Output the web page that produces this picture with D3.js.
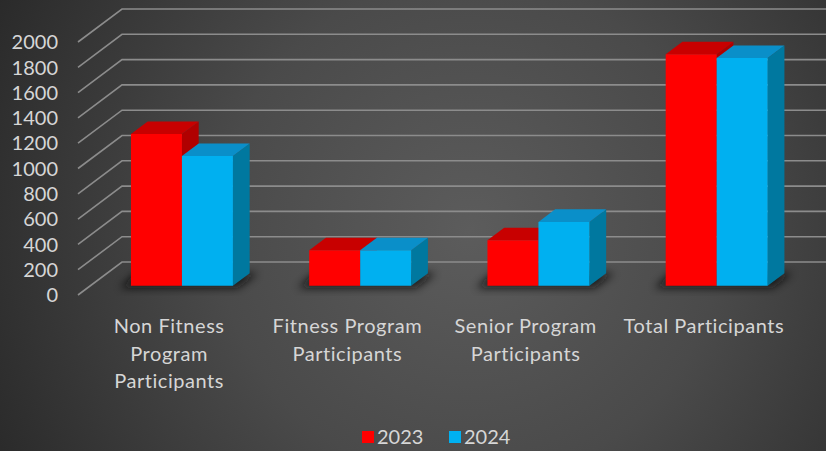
<!DOCTYPE html>
<html>
<head>
<meta charset="utf-8">
<script src="https://cdn.jsdelivr.net/npm/d3@7"></script>
<style>
  html, body { margin: 0; padding: 0; background: #333; }
  svg { display: block; }
  text { font-family: Lato, "Open Sans", sans-serif; fill: #d6d6d6; }
</style>
</head>
<body>
<svg id="chart" width="826" height="451"></svg>
<script>
// Participants per program, 2023 vs 2024
const categories = [
  "Non Fitness Program Participants",
  "Fitness Program Participants",
  "Senior Program Participants",
  "Total Participants"
];
const categoryLines = [
  ["Non Fitness", "Program", "Participants"],
  ["Fitness Program", "Participants"],
  ["Senior Program", "Participants"],
  ["Total Participants"]
];
const seriesNames = ["2023", "2024"];
const values2023 = [1200, 280, 360, 1830];
const values2024 = [1025, 280, 505, 1800];
const yTicks = [0, 200, 400, 600, 800, 1000, 1200, 1400, 1600, 1800, 2000];

const W = 826, H = 451;
const svg = d3.select("#chart");

// background: dark radial glow
const defs = svg.append("defs");
const bg = defs.append("radialGradient").attr("id", "bg")
  .attr("gradientUnits", "userSpaceOnUse")
  .attr("cx", 470).attr("cy", 230).attr("r", 560);
bg.append("stop").attr("offset", "0").attr("stop-color", "#5c5c5c");
bg.append("stop").attr("offset", "0.45").attr("stop-color", "#4a4a4a");
bg.append("stop").attr("offset", "1").attr("stop-color", "#262626");
svg.append("rect").attr("width", W).attr("height", H).attr("fill", "url(#bg)");

const blur = defs.append("filter").attr("id", "shadowBlur")
  .attr("x", "-50%").attr("y", "-50%").attr("width", "200%").attr("height", "200%");
blur.append("feGaussianBlur").attr("stdDeviation", 4);

// oblique 3D frame: front plane + depth vector
const frontLeft = 78, frontRight = 791;
const depthX = 44, depthY = -33;
const y = d3.scaleLinear().domain([0, 2000]).range([295, 42]);
const x = d3.scaleBand().domain(categories).range([frontLeft, frontRight]);
const clusterW = 102;
const xs = d3.scaleBand().domain(seriesNames).range([0, clusterW]);
const tFront = 0.28, tBack = 0.66;

const proj = (px, v, t) => [px + t * depthX, y(v) + t * depthY];

// gridlines: side diagonal + back wall
const grid = svg.append("g").attr("fill", "none")
  .attr("stroke", "#8c8c8c").attr("stroke-width", 1.6);
grid.selectAll("path").data(yTicks).join("path")
  .attr("d", v => d3.line()([
    proj(frontLeft, v, 0),
    proj(frontLeft, v, 1),
    proj(frontRight, v, 1)
  ]));

// tick labels
svg.append("g").selectAll("text").data(yTicks).join("text")
  .attr("x", 58).attr("y", v => y(v))
  .attr("dy", "0.36em").attr("text-anchor", "end")
  .style("font-size", "20px")
  .text(d => d);

const colors = {
  "2023": { front: "#ff0000", top: "#c80000", side: "#b00000" },
  "2024": { front: "#00b0f0", top: "#0a8fc9", side: "#00789f" }
};

const data = categories.map((c, i) => ({
  cat: c,
  bars: [
    { series: "2023", value: values2023[i] },
    { series: "2024", value: values2024[i] }
  ]
}));

const clusterLeft = c => x(c) + (x.bandwidth() - clusterW) / 2 + 2.5;

// soft floor shadows
svg.append("g").selectAll("path").data(data).join("path")
  .attr("filter", "url(#shadowBlur)")
  .attr("fill", "#0d0d0d").attr("opacity", 0.8)
  .attr("d", d => {
    const l = clusterLeft(d.cat) - 12, r = clusterLeft(d.cat) + clusterW + 4;
    const a = proj(l, 0, tFront + 0.02), b = proj(r, 0, tFront + 0.02);
    const c2 = proj(r + 4, 0, tBack), d2 = proj(l, 0, tBack);
    return d3.line()([[a[0], a[1] + 3], [b[0], b[1] + 3], c2, d2]) + "Z";
  });

// 3D bars
const bars = svg.append("g");
data.forEach(d => {
  d.bars.forEach(bd => {
    const l = clusterLeft(d.cat) + xs(bd.series);
    const r = l + xs.bandwidth();
    const col = colors[bd.series];
    const g = bars.append("g");
    const fbl = proj(l, 0, tFront), fbr = proj(r, 0, tFront);
    const ftl = proj(l, bd.value, tFront), ftr = proj(r, bd.value, tFront);
    const btl = proj(l, bd.value, tBack), btr = proj(r, bd.value, tBack);
    const bbr = proj(r, 0, tBack);
    g.append("path").attr("fill", col.side)
      .attr("d", d3.line()([ftr, btr, bbr, fbr]) + "Z");
    g.append("path").attr("fill", col.top)
      .attr("d", d3.line()([ftl, btl, btr, ftr]) + "Z");
    g.append("path").attr("fill", col.front)
      .attr("d", d3.line()([ftl, ftr, fbr, fbl]) + "Z");
  });
});

// category labels
const catG = svg.append("g").selectAll("text").data(categories).join("text")
  .attr("text-anchor", "middle")
  .style("font-size", "20px")
  .style("letter-spacing", "0.55px")
  .attr("transform", c => `translate(${x(c) + x.bandwidth() / 2 + 2},326)`);
catG.selectAll("tspan").data((c, i) => categoryLines[i]).join("tspan")
  .attr("x", 0).attr("y", (t, j) => j * 27.5).attr("dy", "0.36em")
  .text(t => t);

// legend
const legend = svg.append("g").attr("transform", "translate(362,437)");
const legendX = [0, 87];
seriesNames.forEach((s, i) => {
  const lg = legend.append("g").attr("transform", `translate(${legendX[i]},0)`);
  lg.append("rect").attr("x", 0).attr("y", -6).attr("width", 12).attr("height", 12)
    .attr("fill", colors[s].front);
  lg.append("text").attr("x", 15).attr("y", 0).attr("dy", "0.36em")
    .style("font-size", "20px").text(s);
});
</script>
</body>
</html>
